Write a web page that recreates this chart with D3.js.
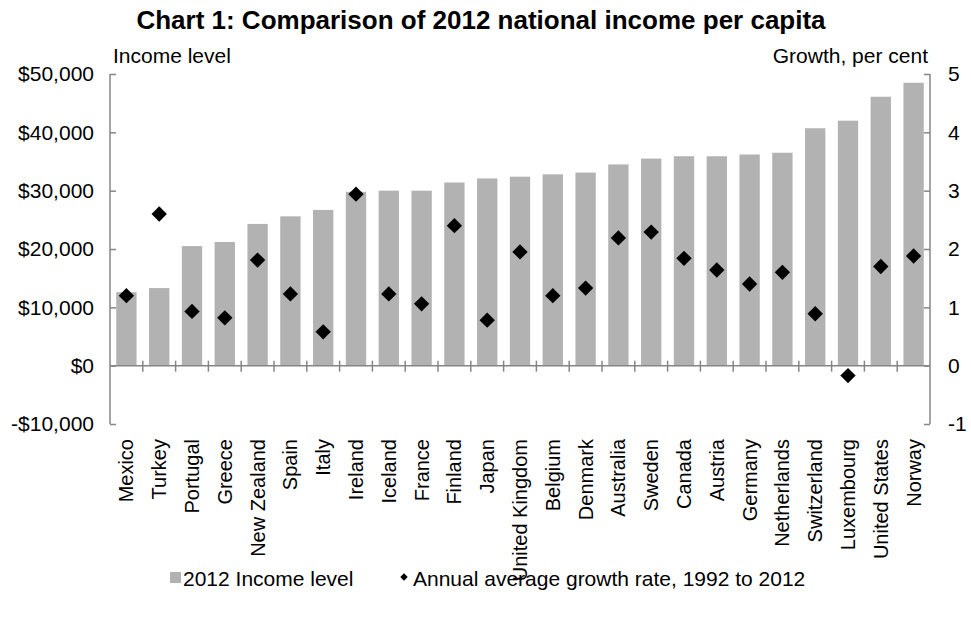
<!DOCTYPE html>
<html>
<head>
<meta charset="utf-8">
<script src="https://cdn.jsdelivr.net/npm/d3@7"></script>
<style>
  body { margin: 0; background: #fff; }
  text { font-family: "Liberation Sans", Arial, sans-serif; fill: #000; }
</style>
</head>
<body>
<script>
var w = 971;
var h = 621;

//Data
var countries = ["Mexico", "Turkey", "Portugal", "Greece", "New Zealand", "Spain", "Italy",
	"Ireland", "Iceland", "France", "Finland", "Japan", "United Kingdom", "Belgium",
	"Denmark", "Australia", "Sweden", "Canada", "Austria", "Germany", "Netherlands",
	"Switzerland", "Luxembourg", "United States", "Norway"];
var income = [12600, 13300, 20500, 21200, 24300, 25600, 26700, 29800, 30000, 30000,
	31400, 32100, 32400, 32800, 33100, 34500, 35500, 35900, 35900, 36200, 36500,
	40700, 42000, 46100, 48500];
var growth = [1.20, 2.60, 0.93, 0.82, 1.81, 1.23, 0.58, 2.94, 1.23, 1.06, 2.40, 0.78,
	1.95, 1.20, 1.33, 2.19, 2.29, 1.84, 1.64, 1.40, 1.60, 0.89, -0.17, 1.70, 1.88];
var incomeTicks = [-10000, 0, 10000, 20000, 30000, 40000, 50000];
var growthTicks = [-1, 0, 1, 2, 3, 4, 5];

var plotL = 110, plotR = 930, plotT = 74, plotB = 424;
var axisColor = "#868686";
var barColor = "#b2b2b2";

var svg = d3.select("body")
	.append("svg")
	.attr("width", w)
	.attr("height", h);

var x = d3.scaleBand()
	.domain(countries)
	.range([plotL, plotR])
	.paddingInner(0.38)
	.paddingOuter(0.19);

var yL = d3.scaleLinear().domain([-10000, 50000]).range([plotB, plotT]);
var yR = d3.scaleLinear().domain([-1, 5]).range([plotB, plotT]);

//Bars
svg.selectAll("rect.bar")
	.data(countries)
	.enter()
	.append("rect")
	.attr("class", "bar")
	.attr("x", function(d) { return x(d); })
	.attr("width", x.bandwidth())
	.attr("y", function(d, i) { return yL(income[i]); })
	.attr("height", function(d, i) { return yL(0) - yL(income[i]); })
	.attr("fill", barColor);

//Zero line with category ticks
svg.append("line")
	.attr("x1", plotL).attr("x2", plotR)
	.attr("y1", yL(0)).attr("y2", yL(0))
	.attr("stroke", axisColor).attr("stroke-width", 1.5);

var step = x.step();
svg.selectAll("line.xtick")
	.data(d3.range(1, countries.length))
	.enter()
	.append("line")
	.attr("class", "xtick")
	.attr("x1", function(d) { return plotL + d * step; })
	.attr("x2", function(d) { return plotL + d * step; })
	.attr("y1", yL(0) - 5).attr("y2", yL(0) + 6)
	.attr("stroke", axisColor).attr("stroke-width", 1.5);

//Left axis
var axL = svg.append("g")
	.attr("transform", "translate(" + plotL + ",0)")
	.call(d3.axisRight(yL).tickValues(incomeTicks).tickSize(6).tickFormat(function(d) {
		return (d < 0 ? "-$" : "$") + d3.format(",")(Math.abs(d));
	}));
axL.select(".domain").remove();
axL.append("line").attr("y1", plotT).attr("y2", plotB).attr("stroke", axisColor).attr("stroke-width", 1.5);
axL.selectAll(".tick line").attr("stroke", axisColor).attr("stroke-width", 1.5);
axL.selectAll(".tick text")
	.attr("x", -16).attr("text-anchor", "end")
	.style("font-size", "21px").style("font-family", "Liberation Sans, Arial, sans-serif").attr("fill", "#000");

//Right axis
var axR = svg.append("g")
	.attr("transform", "translate(" + plotR + ",0)")
	.call(d3.axisLeft(yR).tickValues(growthTicks).tickSize(6).tickFormat(function(d) { return String(d); }));
axR.select(".domain").remove();
axR.append("line").attr("y1", plotT).attr("y2", plotB).attr("stroke", axisColor).attr("stroke-width", 1.5);
axR.selectAll(".tick line").attr("stroke", axisColor).attr("stroke-width", 1.5);
axR.selectAll(".tick text")
	.attr("x", 18).attr("text-anchor", "start")
	.style("font-size", "21px").style("font-family", "Liberation Sans, Arial, sans-serif").attr("fill", "#000");

//Diamonds
svg.selectAll("path.pt")
	.data(countries)
	.enter()
	.append("path")
	.attr("class", "pt")
	.attr("d", d3.symbol().type(d3.symbolDiamond2).size(150))
	.attr("transform", function(d, i) {
		return "translate(" + (x(d) + x.bandwidth() / 2) + "," + yR(growth[i]) + ")";
	})
	.attr("fill", "#000");

//Category labels
svg.selectAll("text.cat")
	.data(countries)
	.enter()
	.append("text")
	.attr("class", "cat")
	.attr("text-anchor", "end")
	.attr("transform", function(d) {
		return "translate(" + (x(d) + x.bandwidth() / 2 + 7) + ",439) rotate(-90)";
	})
	.style("font-size", "20px")
	.text(function(d) { return d; });

//Titles
svg.append("text")
	.attr("x", 481).attr("y", 29)
	.attr("text-anchor", "middle")
	.style("font-size", "26px").style("font-weight", "bold")
	.text("Chart 1: Comparison of 2012 national income per capita");
svg.append("text")
	.attr("x", 113).attr("y", 63)
	.style("font-size", "21px")
	.text("Income level");
svg.append("text")
	.attr("x", 928).attr("y", 63)
	.attr("text-anchor", "end")
	.style("font-size", "21px")
	.text("Growth, per cent");

//Legend
var lg = svg.append("g").attr("transform", "translate(0,586)");
lg.append("rect").attr("x", 170).attr("y", -14).attr("width", 11).attr("height", 11).attr("fill", barColor);
lg.append("text").attr("x", 183).attr("y", 0).style("font-size", "21px").text("2012 Income level");
lg.append("path")
	.attr("d", d3.symbol().type(d3.symbolDiamond2).size(35))
	.attr("transform", "translate(404,-9)");
lg.append("text").attr("x", 413).attr("y", 0).style("font-size", "21px").text("Annual average growth rate, 1992 to 2012");
</script>
</body>
</html>
